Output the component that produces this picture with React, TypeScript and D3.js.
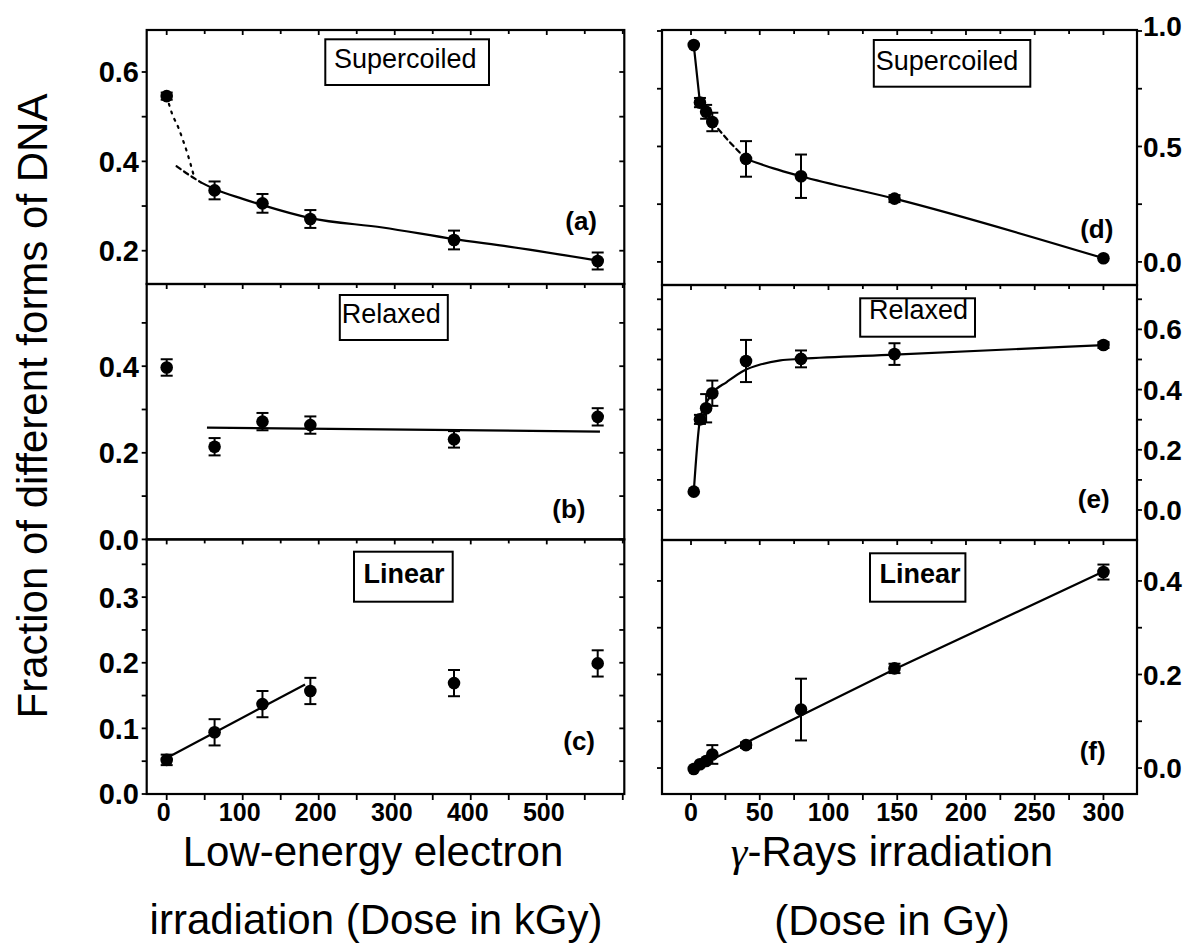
import React from 'react';
import * as d3 from 'd3';

// ---- Low-energy electron irradiation (kGy) ----
const electronDose = [0, 63, 126, 189, 378, 567];
const scValues = [0.546, 0.335, 0.306, 0.271, 0.224, 0.177];
const scErrors = [0.008, 0.02, 0.021, 0.02, 0.021, 0.019];
const relaxedValues = [0.397, 0.214, 0.272, 0.264, 0.231, 0.283];
const relaxedErrors = [0.019, 0.02, 0.02, 0.02, 0.019, 0.02];
const linearValues = [0.052, 0.094, 0.137, 0.157, 0.169, 0.199];
const linearErrors = [0.008, 0.02, 0.02, 0.02, 0.02, 0.02];

// fitted curves, electron series
const scFitDotted: [number, number][] = [[0, 0.546], [7, 0.507], [15, 0.477], [21.5, 0.447], [27.4, 0.417], [35, 0.372]];
const scFitDashed: [number, number][] = [[13, 0.389], [30, 0.369], [45, 0.353]];
const scFitSolid: [number, number][] = [[45, 0.353], [63, 0.338], [100, 0.316], [126, 0.302], [189, 0.273], [284, 0.252], [378, 0.226], [450, 0.209], [567, 0.178]];
const relaxedFit: [number, number][] = [[53, 0.258], [570, 0.249]];
const linearFit: [number, number][] = [[0, 0.055], [182, 0.167]];

// ---- gamma-ray irradiation (Gy) ----
const gammaDose = [2, 6.5, 11, 15.5, 40, 80, 148, 300];
const gScValues = [0.939, 0.69, 0.65, 0.606, 0.446, 0.371, 0.274, 0.016];
const gScErrors = [0, 0.02, 0.03, 0.04, 0.077, 0.094, 0.015, 0];
const gRelValues = [0.061, 0.301, 0.338, 0.388, 0.495, 0.502, 0.518, 0.548];
const gRelErrors = [0, 0.015, 0.047, 0.042, 0.07, 0.028, 0.036, 0.01];
const gLinValues = [-0.002, 0.008, 0.015, 0.029, 0.049, 0.125, 0.213, 0.419];
const gLinErrors = [0, 0, 0, 0.02, 0.006, 0.066, 0.01, 0.016];

// fitted curves, gamma series
const gScFitSolidA: [number, number][] = [[2, 0.939], [6.5, 0.69], [11, 0.65], [15.5, 0.606]];
const gScFitDashed: [number, number][] = [[15.5, 0.606], [28, 0.52], [40, 0.446]];
const gScFitSolidB: [number, number][] = [[40, 0.446], [60, 0.405], [80, 0.371], [148, 0.274], [300, 0.016]];
const gRelFit: [number, number][] = [[2, 0.06], [6.5, 0.3], [10, 0.345], [15.5, 0.388], [26, 0.425], [38, 0.462], [51, 0.484], [65, 0.497], [80, 0.502], [148, 0.516], [300, 0.548]];
const gLinFit: [number, number][] = [[0, -0.004], [148, 0.211], [300, 0.42]];

// axis ticks
const electronMajor = [0, 100, 200, 300, 400, 500];
const electronMinor = [50, 150, 250, 350, 450, 550];
const gammaMajor = [0, 50, 100, 150, 200, 250, 300];
const gammaMinor = [25, 75, 125, 175, 225, 275];

const FONT = '"Liberation Sans", Arial, Helvetica, sans-serif';

type Line = { pts: [number, number][]; dash?: string; curve?: boolean };
type Panel = {
  side: 'left' | 'right';
  top: number;
  bottom: number;
  domain: [number, number];
  major: number[];
  minor: number[];
  labelFmt: (v: number) => string;
  xs: number[];
  ys: number[];
  errs: number[];
  lines: Line[];
  box: { x0: number; x1: number; y0: number; y1: number; tx: number; ty: number; text: string; bold: boolean };
  tag: { x: number; y: number; text: string };
  xLabels: boolean;
  topLabel?: boolean;
};

const fmt1 = (v: number) => v.toFixed(1);

export default function App() {
  const xLeft = d3.scaleLinear().domain([-26.3, 602]).range([146.7, 624.3]);
  const xRight = d3.scaleLinear().domain([-21.1, 324.4]).range([662, 1137]);

  const panels: Panel[] = [
    {
      side: 'left', top: 30, bottom: 284, domain: [0.1255, 0.694],
      major: [0.2, 0.4, 0.6], minor: [0.3, 0.5], labelFmt: fmt1,
      xs: electronDose, ys: scValues, errs: scErrors,
      lines: [
        { pts: scFitDotted, dash: '2,6', curve: true },
        { pts: scFitDashed, dash: '5,4', curve: true },
        { pts: scFitSolid, curve: true },
      ],
      box: { x0: 325.3, x1: 489, y0: 39.3, y1: 85, tx: 334, ty: 68, text: 'Supercoiled', bold: false },
      tag: { x: 597, y: 230, text: '(a)' }, xLabels: false,
    },
    {
      side: 'left', top: 284, bottom: 539.4, domain: [0, 0.5898],
      major: [0.0, 0.2, 0.4], minor: [0.1, 0.3, 0.5], labelFmt: fmt1,
      xs: electronDose, ys: relaxedValues, errs: relaxedErrors,
      lines: [{ pts: relaxedFit }],
      box: { x0: 339.8, x1: 447.8, y0: 295, y1: 340, tx: 341.7, ty: 323, text: 'Relaxed', bold: false },
      tag: { x: 585.5, y: 518, text: '(b)' }, xLabels: false,
    },
    {
      side: 'left', top: 539.4, bottom: 794, domain: [0, 0.388],
      major: [0.0, 0.1, 0.2, 0.3], minor: [0.05, 0.15, 0.25, 0.35], labelFmt: fmt1,
      xs: electronDose, ys: linearValues, errs: linearErrors,
      lines: [{ pts: linearFit }],
      box: { x0: 354, x1: 452.7, y0: 551.7, y1: 601.7, tx: 363.6, ty: 583, text: 'Linear', bold: true },
      tag: { x: 595, y: 750, text: '(c)' }, xLabels: true,
    },
    {
      side: 'right', top: 30, bottom: 285, domain: [-0.1, 1.0043],
      major: [0.0, 0.5, 1.0], minor: [0.25, 0.75], labelFmt: fmt1,
      xs: gammaDose, ys: gScValues, errs: gScErrors,
      lines: [
        { pts: gScFitSolidA },
        { pts: gScFitDashed, dash: '5,4', curve: true },
        { pts: gScFitSolidB, curve: true },
      ],
      box: { x0: 873.8, x1: 1030.3, y0: 40, y1: 86.7, tx: 875.7, ty: 70, text: 'Supercoiled', bold: false },
      tag: { x: 1113.4, y: 238, text: '(d)' }, xLabels: false, topLabel: true,
    },
    {
      side: 'right', top: 285, bottom: 540, domain: [-0.0997, 0.7475],
      major: [0.0, 0.2, 0.4, 0.6], minor: [0.1, 0.3, 0.5, 0.7], labelFmt: fmt1,
      xs: gammaDose, ys: gRelValues, errs: gRelErrors,
      lines: [{ pts: gRelFit, curve: true }],
      box: { x0: 860.2, x1: 975, y0: 298.3, y1: 336.7, tx: 869, ty: 319, text: 'Relaxed', bold: false },
      tag: { x: 1109.6, y: 508, text: '(e)' }, xLabels: false,
    },
    {
      side: 'right', top: 540, bottom: 794, domain: [-0.0555, 0.4875],
      major: [0.0, 0.2, 0.4], minor: [0.1, 0.3], labelFmt: fmt1,
      xs: gammaDose, ys: gLinValues, errs: gLinErrors,
      lines: [{ pts: gLinFit }],
      box: { x0: 870, x1: 965.4, y0: 553.3, y1: 601.7, tx: 879.6, ty: 583, text: 'Linear', bold: true },
      tag: { x: 1105.7, y: 760, text: '(f)' }, xLabels: true,
    },
  ];

  const renderPanel = (p: Panel, i: number) => {
    const xs = p.side === 'left' ? xLeft : xRight;
    const y = d3.scaleLinear().domain(p.domain).range([p.bottom, p.top]);
    const [x0, x1] = xs.range();
    const xMajor = p.side === 'left' ? electronMajor : gammaMajor;
    const xMinor = p.side === 'left' ? electronMinor : gammaMinor;
    const allX = [...xMajor, ...xMinor, ...(p.side === 'left' ? [600] : [])];
    const lineGen = (curve?: boolean) =>
      d3.line<[number, number]>()
        .x((d) => xs(d[0]))
        .y((d) => y(d[1]))
        .curve(curve ? d3.curveMonotoneX : d3.curveLinear);
    const ticksY = [...p.major, ...p.minor];
    return (
      <g key={i}>
        {/* frame */}
        <rect x={x0} y={p.top} width={x1 - x0} height={p.bottom - p.top} fill="none" stroke="#000" strokeWidth={2.2} />
        {/* x ticks on top edge (inward) */}
        {allX.map((v, k) => (
          <line key={'tx' + k} x1={xs(v)} x2={xs(v)} y1={p.top} y2={p.top + (xMajor.includes(v) ? 5 : 4)} stroke="#000" strokeWidth={1.8} />
        ))}
        {/* bottom axis with labels */}
        {p.xLabels && allX.map((v, k) => (
          <line key={'bx' + k} x1={xs(v)} x2={xs(v)} y1={p.bottom} y2={p.bottom + 6} stroke="#000" strokeWidth={1.8} />
        ))}
        {p.xLabels && xMajor.map((v, k) => (
          <text key={'bl' + k} x={xs(v) - (p.side === 'left' ? 3 : 0)} y={821} textAnchor="middle"
            fontFamily={FONT} fontWeight="bold" fontSize={25}>{v}</text>
        ))}
        {/* y ticks */}
        {ticksY.map((v, k) => (
          <g key={'ty' + k}>
            <line x1={x0 - 5} x2={x0} y1={y(v)} y2={y(v)} stroke="#000" strokeWidth={1.8} />
            {p.side === 'left'
              ? <line x1={x1 - 5} x2={x1} y1={y(v)} y2={y(v)} stroke="#000" strokeWidth={1.8} />
              : <line x1={x1} x2={x1 + 5} y1={y(v)} y2={y(v)} stroke="#000" strokeWidth={1.8} />}
          </g>
        ))}
        {p.major.map((v, k) => (
          p.side === 'left'
            ? <text key={'yl' + k} x={139} y={y(v)} dy="0.36em" textAnchor="end" fontFamily={FONT} fontWeight="bold" fontSize={29}>{p.labelFmt(v)}</text>
            : <text key={'yl' + k} x={1143} y={y(v) - (p.topLabel && v === 1 ? 5 : 0)} dy="0.36em" textAnchor="start" fontFamily={FONT} fontWeight="bold" fontSize={28}>{p.labelFmt(v)}</text>
        ))}
        {/* fitted curves */}
        {p.lines.map((l, k) => (
          <path key={'l' + k} d={lineGen(l.curve)(l.pts) || ''} fill="none" stroke="#000" strokeWidth={2.2}
            strokeDasharray={l.dash} strokeLinecap={l.dash ? 'round' : 'butt'} />
        ))}
        {/* error bars and markers */}
        {p.xs.map((xv, k) => {
          const cx = xs(xv);
          const e = p.errs[k];
          return (
            <g key={'p' + k}>
              {e > 0 && (
                <g stroke="#000" strokeWidth={2}>
                  <line x1={cx} x2={cx} y1={y(p.ys[k] - e)} y2={y(p.ys[k] + e)} />
                  <line x1={cx - 6} x2={cx + 6} y1={y(p.ys[k] + e)} y2={y(p.ys[k] + e)} />
                  <line x1={cx - 6} x2={cx + 6} y1={y(p.ys[k] - e)} y2={y(p.ys[k] - e)} />
                </g>
              )}
              <circle cx={cx} cy={y(p.ys[k])} r={6.3} fill="#000" />
            </g>
          );
        })}
        {/* name box */}
        <rect x={p.box.x0} y={p.box.y0} width={p.box.x1 - p.box.x0} height={p.box.y1 - p.box.y0}
          fill="#fff" stroke="#000" strokeWidth={2} />
        <text x={p.box.tx} y={p.box.ty} fontFamily={FONT} fontSize={27} fontWeight={p.box.bold ? 'bold' : 'normal'}>{p.box.text}</text>
        {/* panel tag */}
        <text x={p.tag.x} y={p.tag.y} textAnchor="end" fontFamily={FONT} fontWeight="bold" fontSize={26}>{p.tag.text}</text>
      </g>
    );
  };

  return (
    <svg width={1186} height={943} style={{ position: 'absolute', left: 0, top: 0, background: '#fff' }}>
      <rect x={0} y={0} width={1186} height={943} fill="#fff" />
      {panels.map(renderPanel)}
      <text transform="translate(47,406) rotate(-90)" textAnchor="middle" fontFamily={FONT} fontSize={42}>
        Fraction of different forms of DNA
      </text>
      <text x={373} y={866} textAnchor="middle" fontFamily={FONT} fontSize={42}>Low-energy electron</text>
      <text x={376} y={934} textAnchor="middle" fontFamily={FONT} fontSize={42}>irradiation (Dose in kGy)</text>
      <text x={892} y={866} textAnchor="middle" fontFamily={FONT} fontSize={42}>
        <tspan fontFamily='"Liberation Serif", "Times New Roman", serif' fontStyle="italic">γ</tspan>-Rays irradiation
      </text>
      <text x={892} y={935} textAnchor="middle" fontFamily={FONT} fontSize={42}>(Dose in Gy)</text>
    </svg>
  );
}
